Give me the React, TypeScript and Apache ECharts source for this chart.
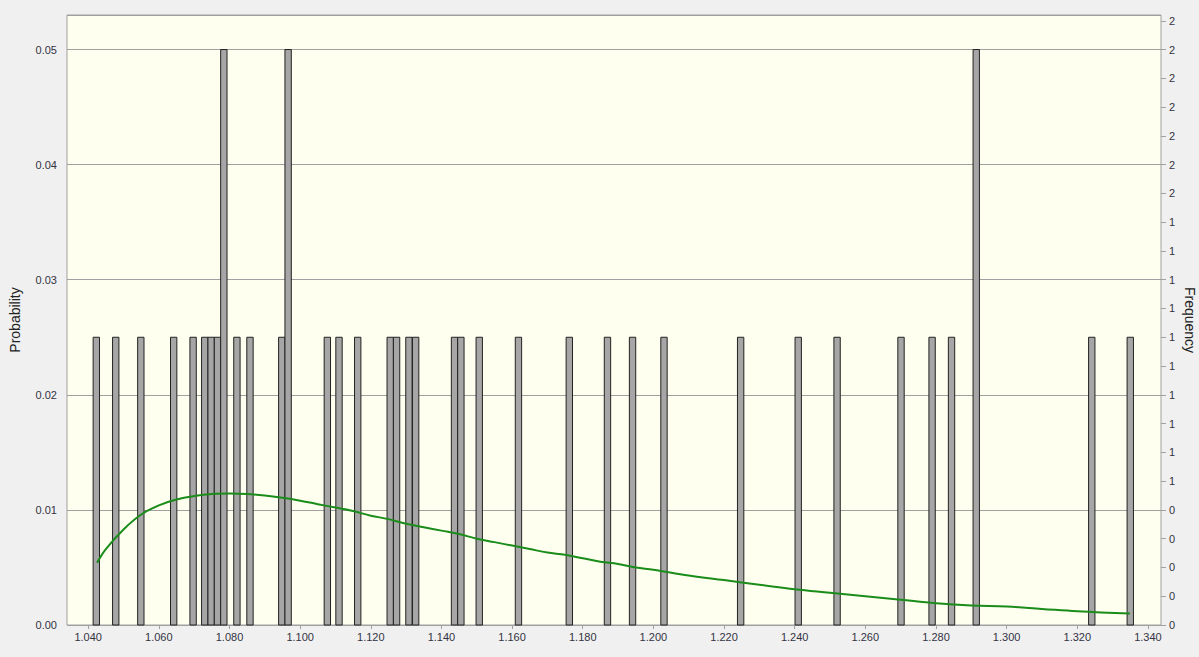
import React, { useEffect, useRef } from "react";
import * as echarts from "echarts";

// Histogram bins (centre of each bin) and their counts
const BIN_CENTERS = [
  1.0423, 1.0478, 1.0549, 1.0642, 1.0697, 1.073, 1.0748, 1.0766, 1.0784, 1.0821,
  1.0858, 1.0948, 1.0966, 1.1077, 1.111, 1.1163, 1.1255, 1.1273, 1.1308, 1.1327,
  1.1437, 1.1455, 1.1507, 1.1618, 1.1762, 1.187, 1.1941, 1.203, 1.2247, 1.241,
  1.252, 1.2701, 1.2789, 1.2844, 1.2914, 1.3241, 1.335,
];
const FREQUENCIES = [
  1, 1, 1, 1, 1, 1, 1, 1, 2, 1,
  1, 1, 2, 1, 1, 1, 1, 1, 1, 1,
  1, 1, 1, 1, 1, 1, 1, 1, 1, 1,
  1, 1, 1, 1, 2, 1, 1,
];
const BIN_WIDTH = 0.0018;

// Fitted density curve (probability scale)
const CURVE_X = [
  1.0425, 1.045, 1.05, 1.055, 1.06, 1.065, 1.07, 1.075, 1.08, 1.085, 1.09, 1.095,
  1.1, 1.105, 1.11, 1.115, 1.12, 1.125, 1.13, 1.135, 1.14, 1.145, 1.15, 1.155,
  1.16, 1.165, 1.17, 1.175, 1.18, 1.185, 1.19, 1.195, 1.2, 1.21, 1.22, 1.23,
  1.24, 1.25, 1.26, 1.27, 1.28, 1.29, 1.3, 1.31, 1.32, 1.3349,
];
const CURVE_P = [
  0.0054, 0.0066, 0.0083, 0.0096, 0.0104, 0.0109, 0.0112, 0.01138, 0.01142, 0.01138, 0.01125, 0.01105,
  0.0108, 0.0105, 0.0102, 0.0099, 0.0095, 0.0092, 0.0088, 0.0085, 0.0082, 0.0079, 0.0075, 0.0072,
  0.0069, 0.0066, 0.0063, 0.0061, 0.0058, 0.0055, 0.0053, 0.005, 0.0048, 0.0043, 0.0039, 0.0035,
  0.0031, 0.0028, 0.0025, 0.0022, 0.0019, 0.0017, 0.0016, 0.0014, 0.0012, 0.001,
];

const X_TICKS = [1.04, 1.06, 1.08, 1.1, 1.12, 1.14, 1.16, 1.18, 1.2, 1.22, 1.24, 1.26, 1.28, 1.3, 1.32, 1.34];
const FREQ_TICKS = [
  0, 0.1, 0.2, 0.3, 0.4, 0.5, 0.6, 0.7, 0.8, 0.9, 1.0,
  1.1, 1.2, 1.3, 1.4, 1.5, 1.6, 1.7, 1.8, 1.9, 2.0, 2.1,
];

const FONT = "'Liberation Sans', Arial, sans-serif";

export default function App() {
  const ref = useRef<HTMLDivElement>(null);

  useEffect(() => {
    document.body.style.margin = "0";
    const chart = echarts.init(ref.current!, null, { renderer: "svg" });
    const barData = BIN_CENTERS.map((c, i) => [c, FREQUENCIES[i]]);
    const curveData = CURVE_X.map((x, i) => [x, CURVE_P[i]]);

    chart.setOption({
      animation: false,
      backgroundColor: "#f0f0f0",
      textStyle: { fontFamily: FONT },
      grid: {
        left: 67,
        right: 38,
        top: 15,
        bottom: 32,
        outerBoundsMode: "none",
        containLabel: false,
        show: true,
        backgroundColor: "#fffff0",
        borderColor: "#a0a0a0",
        borderWidth: 1,
      },
      xAxis: {
        type: "value",
        min: 1.034,
        max: 1.3437,
        axisLine: { show: false },
        axisTick: {
          show: true,
          length: 4,
          customValues: X_TICKS,
          lineStyle: { color: "#a0a0a0" },
        },
        axisLabel: {
          customValues: X_TICKS,
          formatter: (v: number) => v.toFixed(3),
          fontSize: 11,
          color: "#333344",
          margin: 6,
          fontFamily: FONT,
        },
        splitLine: { show: false },
      },
      yAxis: [
        {
          type: "value",
          min: 0,
          max: 0.053,
          interval: 0.01,
          position: "left",
          name: "Probability",
          nameLocation: "middle",
          nameGap: 45,
          nameMoveOverlap: false,
          nameTextStyle: { fontSize: 14, color: "#222", fontFamily: FONT },
          axisLine: { show: false },
          axisTick: { show: false },
          axisLabel: {
            showMaxLabel: false,
            formatter: (v: number) => v.toFixed(2),
            fontSize: 11,
            color: "#333344",
            margin: 10,
            fontFamily: FONT,
          },
          splitLine: { show: true, lineStyle: { color: "#a0a0a0", width: 1 } },
        },
        {
          type: "value",
          min: 0,
          max: 2.12,
          position: "right",
          name: "Frequency",
          nameLocation: "middle",
          nameGap: 22,
          nameRotate: -90,
          nameMoveOverlap: false,
          nameTextStyle: { fontSize: 14, color: "#222", fontFamily: FONT },
          axisLine: { show: false },
          axisTick: {
            show: true,
            length: 5,
            customValues: FREQ_TICKS,
            lineStyle: { color: "#a0a0a0" },
          },
          axisLabel: {
            customValues: FREQ_TICKS,
            formatter: (v: number) => String(Math.round(Math.round(v * 10) / 10 + 1e-9)),
            fontSize: 11,
            color: "#333344",
            margin: 8,
            fontFamily: FONT,
          },
          splitLine: { show: false },
        },
      ],
      series: [
        {
          type: "custom",
          xAxisIndex: 0,
          yAxisIndex: 1,
          encode: { x: 0, y: 1 },
          data: barData,
          renderItem: (params: any, api: any) => {
            const c = api.value(0);
            const f = api.value(1);
            const p0 = api.coord([c - BIN_WIDTH / 2, f]);
            const p1 = api.coord([c + BIN_WIDTH / 2, 0]);
            return {
              type: "rect",
              shape: { x: p0[0], y: p0[1], width: p1[0] - p0[0], height: p1[1] - p0[1] },
              style: { fill: "#a6a6a6", stroke: "#222", lineWidth: 1 },
            };
          },
          z: 2,
        },
        {
          type: "line",
          xAxisIndex: 0,
          yAxisIndex: 0,
          data: curveData,
          smooth: 0.4,
          showSymbol: false,
          lineStyle: { color: "#1a8c1a", width: 2 },
          z: 3,
        },
      ],
    });

    return () => chart.dispose();
  }, []);

  return <div ref={ref} style={{ width: 1199, height: 657 }} />;
}
